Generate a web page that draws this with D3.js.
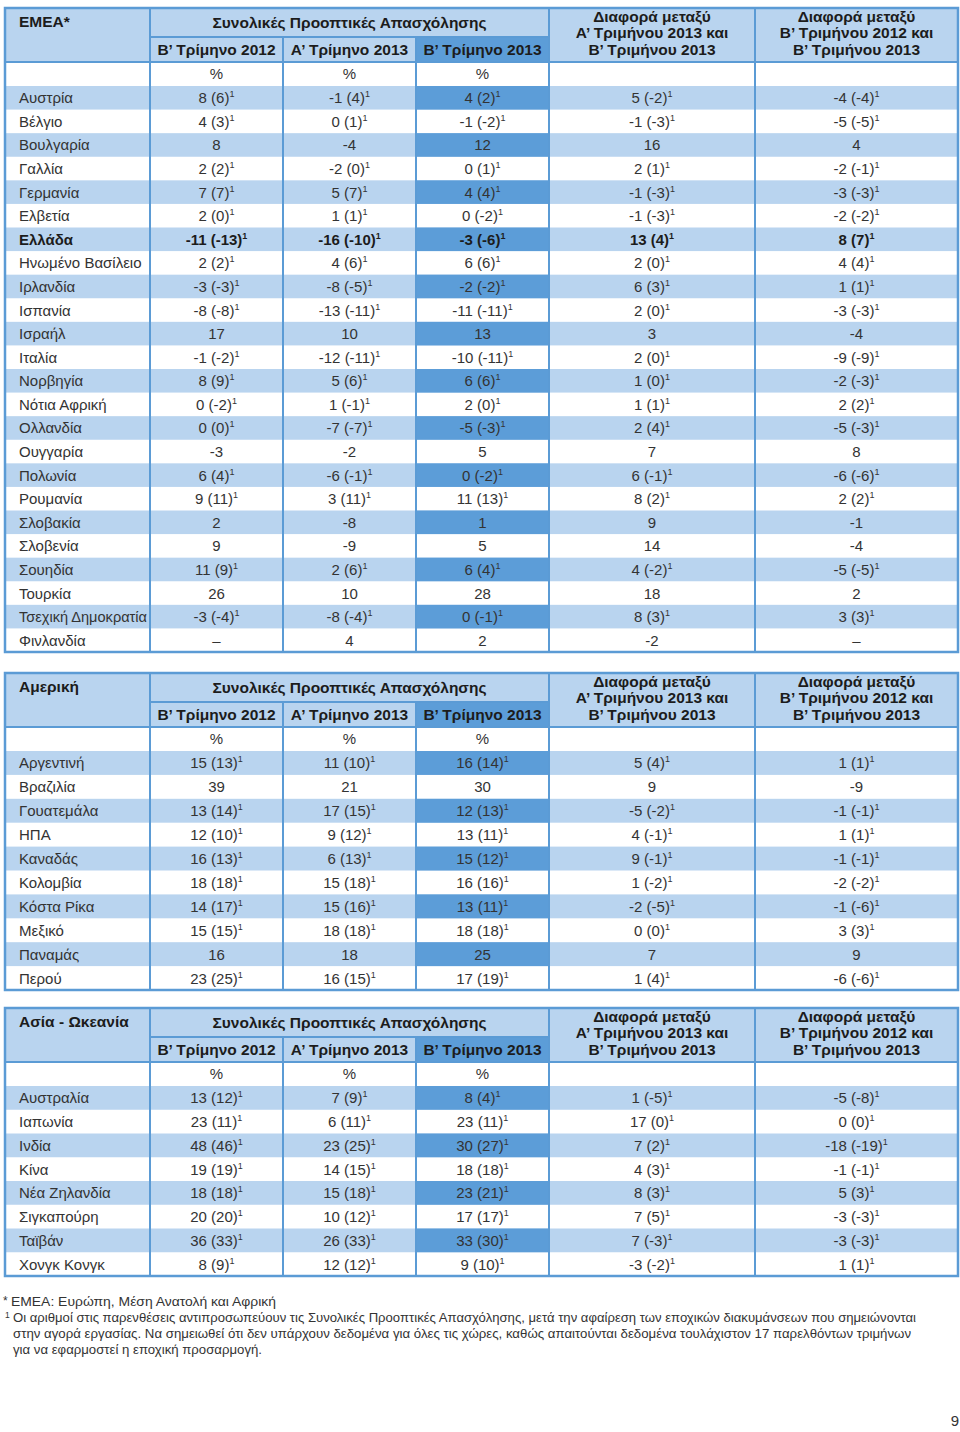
<!DOCTYPE html>
<html>
<head>
<meta charset="utf-8">
<script src="https://cdn.jsdelivr.net/npm/d3@7"></script>
<style>
  html, body { margin: 0; padding: 0; background: #ffffff; }
  svg { display: block; }
</style>
</head>
<body>
<svg id="chart" width="960" height="1432"></svg>
<script>
// ---------------- DATA ----------------
const quarterHeaders = ["Β’ Τρίμηνο 2012", "Α’ Τρίμηνο 2013", "Β’ Τρίμηνο 2013"];
const groupHeader = "Συνολικές Προοπτικές Απασχόλησης";
const diffHeaderA = ["Διαφορά μεταξύ", "Α’ Τριμήνου 2013 και", "Β’ Τριμήνου 2013"];
const diffHeaderB = ["Διαφορά μεταξύ", "Β’ Τριμήνου 2012 και", "Β’ Τριμήνου 2013"];
const unitLabel = "%";

// EMEA
const emeaCountries = ["Αυστρία","Βέλγιο","Βουλγαρία","Γαλλία","Γερμανία","Ελβετία","Ελλάδα","Ηνωμένο Βασίλειο","Ιρλανδία","Ισπανία","Ισραήλ","Ιταλία","Νορβηγία","Νότια Αφρική","Ολλανδία","Ουγγαρία","Πολωνία","Ρουμανία","Σλοβακία","Σλοβενία","Σουηδία","Τουρκία","Τσεχική Δημοκρατία","Φινλανδία"];
const emeaQ2_2012 = ["8 (6)","4 (3)","8","2 (2)","7 (7)","2 (0)","-11 (-13)","2 (2)","-3 (-3)","-8 (-8)","17","-1 (-2)","8 (9)","0 (-2)","0 (0)","-3","6 (4)","9 (11)","2","9","11 (9)","26","-3 (-4)","–"];
const emeaQ1_2013 = ["-1 (4)","0 (1)","-4","-2 (0)","5 (7)","1 (1)","-16 (-10)","4 (6)","-8 (-5)","-13 (-11)","10","-12 (-11)","5 (6)","1 (-1)","-7 (-7)","-2","-6 (-1)","3 (11)","-8","-9","2 (6)","10","-8 (-4)","4"];
const emeaQ2_2013 = ["4 (2)","-1 (-2)","12","0 (1)","4 (4)","0 (-2)","-3 (-6)","6 (6)","-2 (-2)","-11 (-11)","13","-10 (-11)","6 (6)","2 (0)","-5 (-3)","5","0 (-2)","11 (13)","1","5","6 (4)","28","0 (-1)","2"];
const emeaDiffQoQ = ["5 (-2)","-1 (-3)","16","2 (1)","-1 (-3)","-1 (-3)","13 (4)","2 (0)","6 (3)","2 (0)","3","2 (0)","1 (0)","1 (1)","2 (4)","7","6 (-1)","8 (2)","9","14","4 (-2)","18","8 (3)","-2"];
const emeaDiffYoY = ["-4 (-4)","-5 (-5)","4","-2 (-1)","-3 (-3)","-2 (-2)","8 (7)","4 (4)","1 (1)","-3 (-3)","-4","-9 (-9)","-2 (-3)","2 (2)","-5 (-3)","8","-6 (-6)","2 (2)","-1","-4","-5 (-5)","2","3 (3)","–"];

// Americas
const amerCountries = ["Αργεντινή","Βραζιλία","Γουατεμάλα","ΗΠΑ","Καναδάς","Κολομβία","Κόστα Ρίκα","Μεξικό","Παναμάς","Περού"];
const amerQ2_2012 = ["15 (13)","39","13 (14)","12 (10)","16 (13)","18 (18)","14 (17)","15 (15)","16","23 (25)"];
const amerQ1_2013 = ["11 (10)","21","17 (15)","9 (12)","6 (13)","15 (18)","15 (16)","18 (18)","18","16 (15)"];
const amerQ2_2013 = ["16 (14)","30","12 (13)","13 (11)","15 (12)","16 (16)","13 (11)","18 (18)","25","17 (19)"];
const amerDiffQoQ = ["5 (4)","9","-5 (-2)","4 (-1)","9 (-1)","1 (-2)","-2 (-5)","0 (0)","7","1 (4)"];
const amerDiffYoY = ["1 (1)","-9","-1 (-1)","1 (1)","-1 (-1)","-2 (-2)","-1 (-6)","3 (3)","9","-6 (-6)"];

// Asia - Pacific
const asiaCountries = ["Αυστραλία","Ιαπωνία","Ινδία","Κίνα","Νέα Ζηλανδία","Σιγκαπούρη","Ταϊβάν","Χονγκ Κονγκ"];
const asiaQ2_2012 = ["13 (12)","23 (11)","48 (46)","19 (19)","18 (18)","20 (20)","36 (33)","8 (9)"];
const asiaQ1_2013 = ["7 (9)","6 (11)","23 (25)","14 (15)","15 (18)","10 (12)","26 (33)","12 (12)"];
const asiaQ2_2013 = ["8 (4)","23 (11)","30 (27)","18 (18)","23 (21)","17 (17)","33 (30)","9 (10)"];
const asiaDiffQoQ = ["1 (-5)","17 (0)","7 (2)","4 (3)","8 (3)","7 (5)","7 (-3)","-3 (-2)"];
const asiaDiffYoY = ["-5 (-8)","0 (0)","-18 (-19)","-1 (-1)","5 (3)","-3 (-3)","-3 (-3)","1 (1)"];

const footnoteStar = "ΕΜΕΑ: Ευρώπη, Μέση Ανατολή και Αφρική";
const footnoteOne = [
  "Οι αριθμοί στις παρενθέσεις αντιπροσωπεύουν τις Συνολικές Προοπτικές Απασχόλησης, μετά την αφαίρεση των εποχικών διακυμάνσεων που σημειώνονται",
  "στην αγορά εργασίας. Να σημειωθεί ότι δεν υπάρχουν δεδομένα για όλες τις χώρες, καθώς απαιτούνται δεδομένα τουλάχιστον 17 παρελθόντων τριμήνων",
  "για να εφαρμοστεί η εποχική προσαρμογή."
];
const pageNumber = "9";

// ---------------- LAYOUT / STYLE ----------------
const LIGHT = "#b9d4ef";
const DARK = "#5c9dd8";
const LINE = "#5b9bd5";
const TEXT = "#333333";
const HEAD = "#1c1c1c";
const FONT = "'Liberation Sans', Arial, Helvetica, sans-serif";

const colKeys = ["label","q1","q2","q3","d1","d2"];
const colEdges = [5, 150, 283, 416, 549, 755, 958];
const xLeft = d3.scaleOrdinal().domain(colKeys).range(colEdges.slice(0, 6));
const xRight = d3.scaleOrdinal().domain(colKeys).range(colEdges.slice(1));
const xMid = k => (xLeft(k) + xRight(k)) / 2;

const svg = d3.select("#chart");

const tables = [
  { title: "ΕΜΕΑ*", top: 8, bottom: 652, countries: emeaCountries,
    cols: [emeaQ2_2012, emeaQ1_2013, emeaQ2_2013, emeaDiffQoQ, emeaDiffYoY], bold: "Ελλάδα" },
  { title: "Αμερική", top: 673, bottom: 990, countries: amerCountries,
    cols: [amerQ2_2012, amerQ1_2013, amerQ2_2013, amerDiffQoQ, amerDiffYoY], bold: null },
  { title: "Ασία - Ωκεανία", top: 1008, bottom: 1276, countries: asiaCountries,
    cols: [asiaQ2_2012, asiaQ1_2013, asiaQ2_2013, asiaDiffQoQ, asiaDiffYoY], bold: null }
];

function cellText(sel, str, x, y, bold) {
  const t = sel.append("text")
    .attr("x", x).attr("y", y)
    .attr("text-anchor", "middle")
    .attr("font-family", FONT)
    .attr("font-size", 15)
    .attr("font-weight", bold ? "bold" : "normal")
    .attr("fill", bold ? HEAD : TEXT);
  const hasSup = str.indexOf("(") >= 0;
  t.append("tspan").text(str);
  if (hasSup) {
    t.append("tspan").attr("font-size", 9).attr("dy", -6).text("1");
  }
}

tables.forEach(tb => {
  const g = svg.append("g");
  const h1 = 29, h2 = 25, h3 = 24;
  const yH1 = tb.top, yH2 = tb.top + h1, yH3 = tb.top + h1 + h2, yData = tb.top + h1 + h2 + h3;
  const x0 = colEdges[0], x1 = colEdges[colEdges.length - 1];

  const y = d3.scaleBand().domain(d3.range(tb.countries.length)).range([yData, tb.bottom]).padding(0);

  // header background
  g.append("rect").attr("x", x0).attr("y", yH1).attr("width", x1 - x0).attr("height", h1 + h2).attr("fill", LIGHT);
  g.append("rect").attr("x", xLeft("q3")).attr("y", yH2).attr("width", xRight("q3") - xLeft("q3")).attr("height", h2).attr("fill", DARK);

  // data row backgrounds (alternating)
  tb.countries.forEach((c, i) => {
    if (i % 2 !== 0) return;
    g.append("rect").attr("x", x0).attr("y", y(i)).attr("width", x1 - x0).attr("height", y.bandwidth()).attr("fill", LIGHT);
    g.append("rect").attr("x", xLeft("q3")).attr("y", y(i)).attr("width", xRight("q3") - xLeft("q3")).attr("height", y.bandwidth()).attr("fill", DARK);
  });

  // header text
  g.append("text").attr("x", 19).attr("y", yH1 + 19).attr("font-family", FONT).attr("font-size", 15.5)
    .attr("font-weight", "bold").attr("fill", HEAD).text(tb.title);
  g.append("text").attr("x", (xLeft("q1") + xRight("q3")) / 2).attr("y", yH1 + 20).attr("text-anchor", "middle")
    .attr("font-family", FONT).attr("font-size", 15.5).attr("font-weight", "bold").attr("fill", HEAD).text(groupHeader);
  ["q1","q2","q3"].forEach((k, j) => {
    g.append("text").attr("x", xMid(k)).attr("y", yH2 + 18).attr("text-anchor", "middle")
      .attr("font-family", FONT).attr("font-size", 15.5).attr("font-weight", "bold").attr("fill", HEAD).text(quarterHeaders[j]);
    g.append("text").attr("x", xMid(k)).attr("y", yH3 + 17).attr("text-anchor", "middle")
      .attr("font-family", FONT).attr("font-size", 15).attr("fill", TEXT).text(unitLabel);
  });
  [["d1", diffHeaderA], ["d2", diffHeaderB]].forEach(([k, lines]) => {
    lines.forEach((ln, j) => {
      g.append("text").attr("x", xMid(k)).attr("y", yH1 + 14 + j * 16.3).attr("text-anchor", "middle")
        .attr("font-family", FONT).attr("font-size", 15.5).attr("font-weight", "bold").attr("fill", HEAD).text(ln);
    });
  });

  // data text
  tb.countries.forEach((c, i) => {
    const cy = y(i) + y.bandwidth() / 2 + 5.5;
    const bold = c === tb.bold;
    const lab = g.append("text").attr("x", 19).attr("y", cy).attr("font-family", FONT).attr("font-size", 15)
      .attr("font-weight", bold ? "bold" : "normal").attr("fill", bold ? HEAD : TEXT).text(c);
    const maxW = xRight("label") - 19 - 3;
    if (lab.node().getComputedTextLength() > maxW) {
      lab.attr("textLength", maxW).attr("lengthAdjust", "spacingAndGlyphs");
    }
    ["q1","q2","q3","d1","d2"].forEach((k, j) => {
      cellText(g, tb.cols[j][i], xMid(k), cy, bold);
    });
  });

  // lines
  const ln = (xa, ya, xb, yb, w) => g.append("line").attr("x1", xa).attr("y1", ya).attr("x2", xb).attr("y2", yb)
    .attr("stroke", LINE).attr("stroke-width", w || 2);
  ln(xLeft("q1"), yH1, xLeft("q1"), tb.bottom);
  ln(xLeft("q2"), yH2, xLeft("q2"), tb.bottom);
  ln(xLeft("q3"), yH2, xLeft("q3"), tb.bottom);
  ln(xLeft("d1"), yH1, xLeft("d1"), tb.bottom);
  ln(xLeft("d2"), yH1, xLeft("d2"), tb.bottom);
  ln(xLeft("q1"), yH2, xRight("q3"), yH2);
  ln(x0, yH3, x1, yH3);
  g.append("rect").attr("x", x0).attr("y", tb.top).attr("width", x1 - x0).attr("height", tb.bottom - tb.top)
    .attr("fill", "none").attr("stroke", LINE).attr("stroke-width", 2.5);
});

// footnotes
const fn = svg.append("g").attr("font-family", FONT).attr("fill", TEXT);
fn.append("text").attr("x", 3).attr("y", 1305).attr("font-size", 12).text("*");
fn.append("text").attr("x", 11).attr("y", 1306).attr("font-size", 13)
  .attr("textLength", 265).attr("lengthAdjust", "spacingAndGlyphs").text(footnoteStar);
fn.append("text").attr("x", 5).attr("y", 1318).attr("font-size", 8.5).text("1");
const fnWidths = [903, 898, 249];
footnoteOne.forEach((line, i) => {
  fn.append("text").attr("x", 13).attr("y", 1322 + i * 16).attr("font-size", 13)
    .attr("textLength", fnWidths[i]).attr("lengthAdjust", "spacingAndGlyphs").text(line);
});
svg.append("text").attr("x", 959).attr("y", 1426).attr("text-anchor", "end").attr("font-family", FONT)
  .attr("font-size", 15).attr("fill", TEXT).text(pageNumber);
</script>
</body>
</html>
